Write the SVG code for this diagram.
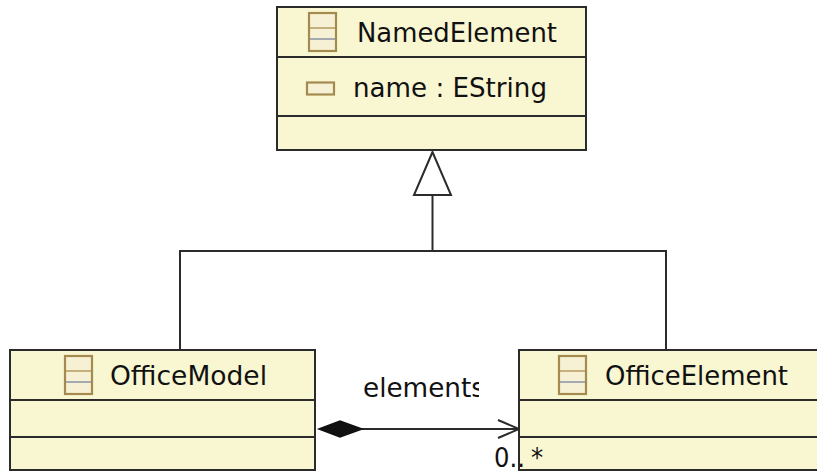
<svg xmlns="http://www.w3.org/2000/svg" width="817" height="472" viewBox="0 0 817 472">
<style>
.box{fill:#f9f7d1;stroke:#2b2b2b;stroke-width:2}
.div{stroke:#2b2b2b;stroke-width:2}
.t{font-family:"DejaVu Sans Condensed","DejaVu Sans",sans-serif;font-size:27px;fill:#111}
.ico{fill:#f6f1d4;stroke:#a48a4e;stroke-width:2.2}
.il1{stroke:#b49a60;stroke-width:1.5}
.il2{stroke:#8a92a4;stroke-width:1.5}
.ln{fill:none;stroke:#2b2b2b;stroke-width:2}
</style>
<defs>
<g id="clsIcon">
<rect class="ico" x="0" y="0" width="27" height="38"/>
<line class="il1" x1="1" y1="15" x2="26" y2="15"/>
<line class="il2" x1="1" y1="26" x2="26" y2="26"/>
</g>
<clipPath id="clipEl"><rect x="340" y="360" width="139" height="50"/></clipPath>
</defs>
<g id="connectors">
<polygon points="432.5,152 414,195 451,195" fill="#fff" stroke="#2b2b2b" stroke-width="2"/>
<line class="ln" x1="432.5" y1="195" x2="432.5" y2="251"/>
<polyline class="ln" points="180,350 180,251 666,251 666,350"/>
<line class="ln" x1="362" y1="429" x2="519" y2="429"/>
<polygon points="319,429 340,421 362,429 340,437" fill="#111" stroke="#111" stroke-width="1.5"/>
<polyline class="ln" points="498,420 519,429 498,438"/>
<text class="t" x="363" y="397" textLength="122" lengthAdjust="spacingAndGlyphs" clip-path="url(#clipEl)">elements</text>
</g>
<g id="NamedElement">
<rect class="box" x="277" y="7" width="309" height="143"/>
<line class="div" x1="277" y1="57" x2="586" y2="57"/>
<line class="div" x1="277" y1="116" x2="586" y2="116"/>
<use href="#clsIcon" x="309" y="13"/>
<text class="t" x="357" y="42" textLength="200" lengthAdjust="spacingAndGlyphs">NamedElement</text>
<rect class="ico" x="307" y="82.5" width="27" height="12"/>
<text class="t" x="353" y="97" textLength="194" lengthAdjust="spacingAndGlyphs">name : EString</text>
</g>
<g id="OfficeModel">
<rect class="box" x="10" y="350" width="305" height="120"/>
<line class="div" x1="10" y1="400" x2="315" y2="400"/>
<line class="div" x1="10" y1="437" x2="315" y2="437"/>
<use href="#clsIcon" x="65" y="356"/>
<text class="t" x="110" y="385" textLength="157" lengthAdjust="spacingAndGlyphs">OfficeModel</text>
</g>
<g id="OfficeElement">
<rect class="box" x="519" y="350" width="310" height="120"/>
<line class="div" x1="519" y1="400" x2="829" y2="400"/>
<line class="div" x1="519" y1="437" x2="829" y2="437"/>
<use href="#clsIcon" x="559" y="356"/>
<text class="t" x="605" y="385" textLength="183" lengthAdjust="spacingAndGlyphs">OfficeElement</text>
</g>
<text class="t" x="494" y="467">0..<tspan x="531">*</tspan></text>
</svg>
